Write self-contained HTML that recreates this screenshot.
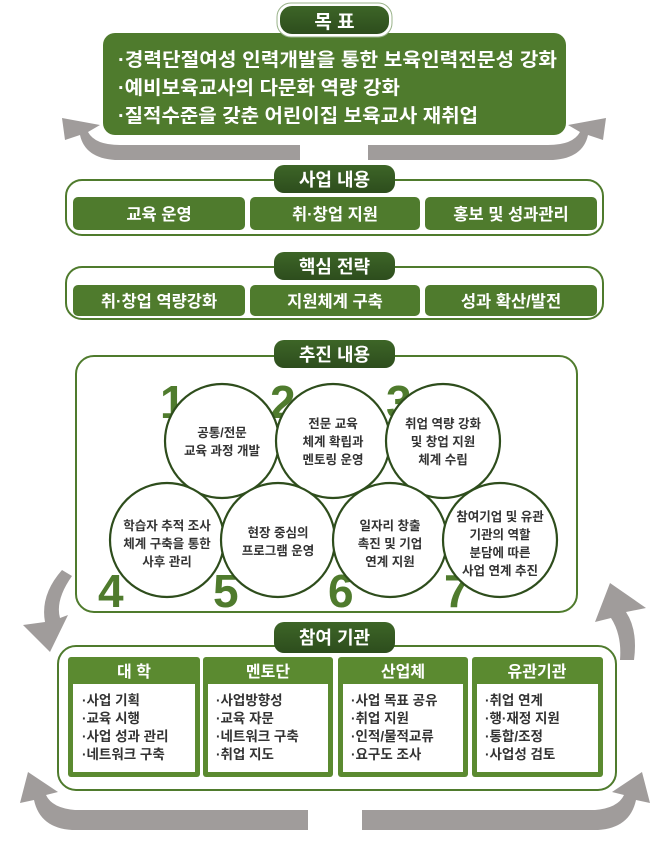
<!DOCTYPE html>
<html><head><meta charset="utf-8"><style>
body{margin:0;background:#fff;width:670px;height:840px;overflow:hidden}
svg{font-family:"Liberation Sans","Noto Sans CJK KR",sans-serif;font-weight:bold}
</style></head><body>
<svg width="670" height="840" viewBox="0 0 670 840">
<defs>
<linearGradient id="pg" x1="0" y1="0" x2="0" y2="1"><stop offset="0" stop-color="#3d6527"/><stop offset="1" stop-color="#2d4d1d"/></linearGradient>
</defs>
<g fill="#a09c9b">
<path d="M300 145 L300 160 L115 160 Q85 158 80 135 L65 140 L62 118 L100 125 L88 132 Q95 145 120 145 Z"/>
<path d="M368 145 L368 160 L553 160 Q583 158 588 135 L603 140 L606 118 L568 125 L580 132 Q573 145 548 145 Z"/>
<path d="M62 570 L72 576 Q55 600 60 618 L68 615 L50 652 L23 625 L45 622 Q40 595 62 570 Z"/>
<path d="M620 660 L634 660 Q638 630 626 612 L646 608 L610 583 L595 622 L611 618 Q622 635 620 660 Z"/>
<path d="M308 800 L308 830 L72 830 Q40 828 34 800 L20 803 L28 772 L58 792 L46 795 Q52 808 75 810 L308 810 Z"/>
<path d="M362 800 L362 830 L598 830 Q630 828 636 800 L650 803 L642 772 L612 792 L624 795 Q618 808 595 810 L362 810 Z"/>
</g>
<rect x="103" y="33" width="463" height="102" rx="12" fill="#4f7b2d"/>
<rect x="277" y="3" width="115" height="34" rx="14" fill="#fff" stroke="#9ab38a" stroke-width="1"/>
<rect x="280" y="6" width="109" height="28" rx="12" fill="url(#pg)"/>
<text x="334.5" y="28" fill="#fff" font-size="19" text-anchor="middle">목 표</text>
<g fill="#fff" font-size="19">
<text x="118" y="66" textLength="439" lengthAdjust="spacingAndGlyphs">·경력단절여성 인력개발을 통한 보육인력전문성 강화</text>
<text x="118" y="94" textLength="282" lengthAdjust="spacingAndGlyphs">·예비보육교사의 다문화 역량 강화</text>
<text x="118" y="122" textLength="360" lengthAdjust="spacingAndGlyphs">·질적수준을 갖춘 어린이집 보육교사 재취업</text>
</g>
<rect x="66" y="180" width="537" height="55" rx="16" fill="#fff" stroke="#4f7b2d" stroke-width="2"/>
<rect x="274" y="165" width="121" height="28" rx="10" fill="url(#pg)"/>
<text x="334.5" y="186" fill="#fff" font-size="18" text-anchor="middle">사업 내용</text>
<g fill="#4f7b2d"><rect x="73" y="197" width="172" height="33" rx="5"/><rect x="250" y="197" width="170" height="33" rx="5"/><rect x="425" y="197" width="172" height="33" rx="5"/></g>
<g fill="#fff" font-size="16.5" text-anchor="middle"><text x="159" y="220">교육 운영</text><text x="335" y="220">취·창업 지원</text><text x="511" y="220">홍보 및 성과관리</text></g>
<rect x="66" y="267" width="537" height="52" rx="16" fill="#fff" stroke="#4f7b2d" stroke-width="2"/>
<rect x="274" y="252" width="121" height="28" rx="10" fill="url(#pg)"/>
<text x="334.5" y="273" fill="#fff" font-size="18" text-anchor="middle">핵심 전략</text>
<g fill="#4f7b2d"><rect x="73" y="285" width="172" height="31" rx="5"/><rect x="250" y="285" width="170" height="31" rx="5"/><rect x="425" y="285" width="172" height="31" rx="5"/></g>
<g fill="#fff" font-size="16.5" text-anchor="middle"><text x="159" y="307">취·창업 역량강화</text><text x="335" y="307">지원체계 구축</text><text x="511" y="307">성과 확산/발전</text></g>
<rect x="76" y="356" width="501" height="256" rx="18" fill="#fff" stroke="#4f7b2d" stroke-width="2"/>
<rect x="274" y="340" width="121" height="28" rx="10" fill="url(#pg)"/>
<text x="334.5" y="361" fill="#fff" font-size="18" text-anchor="middle">추진 내용</text>
<g fill="#4f7b2d" font-size="46" font-family="Liberation Sans,sans-serif">
<text x="160" y="418">1</text><text x="270" y="418">2</text><text x="386" y="418">3</text>
<text x="98" y="607">4</text><text x="213" y="607">5</text><text x="328" y="607">6</text><text x="444" y="607">7</text>
</g>
<g fill="#fff" stroke="#2e4d1c" stroke-width="2.2">
<circle cx="222" cy="441" r="57"/><circle cx="333" cy="441" r="57"/><circle cx="443" cy="441" r="57"/>
<circle cx="167" cy="540" r="57"/><circle cx="278" cy="540" r="57"/><circle cx="390" cy="540" r="57"/><circle cx="500" cy="540" r="57"/>
</g>
<g fill="#333" font-size="12.5" text-anchor="middle">
<text x="222" y="437">공통/전문</text><text x="222" y="455">교육 과정 개발</text>
<text x="333" y="428">전문 교육</text><text x="333" y="446">체계 확립과</text><text x="333" y="464">멘토링 운영</text>
<text x="443" y="428">취업 역량 강화</text><text x="443" y="446">및 창업 지원</text><text x="443" y="464">체계 수립</text>
<text x="167" y="530">학습자 추적 조사</text><text x="167" y="548">체계 구축을 통한</text><text x="167" y="566">사후 관리</text>
<text x="278" y="537">현장 중심의</text><text x="278" y="555">프로그램 운영</text>
<text x="390" y="530">일자리 창출</text><text x="390" y="548">촉진 및 기업</text><text x="390" y="566">연계 지원</text>
<text x="500" y="521">참여기업 및 유관</text><text x="500" y="539">기관의 역할</text><text x="500" y="557">분담에 따른</text><text x="500" y="575">사업 연계 추진</text>
</g>
<rect x="58" y="646" width="558" height="144" rx="18" fill="#fff" stroke="#4f7b2d" stroke-width="2"/>
<rect x="274" y="622" width="121" height="31" rx="10" fill="url(#pg)"/>
<text x="334.5" y="644" fill="#fff" font-size="18" text-anchor="middle">참여 기관</text>
<g fill="#5b8a30">
<rect x="68" y="657" width="132" height="120" rx="3"/><rect x="203" y="657" width="130" height="120" rx="3"/>
<rect x="338" y="657" width="130" height="120" rx="3"/><rect x="472" y="657" width="131" height="120" rx="3"/>
</g>
<g fill="#fff">
<rect x="73" y="684" width="122" height="88"/><rect x="208" y="684" width="120" height="88"/>
<rect x="343" y="684" width="120" height="88"/><rect x="477" y="684" width="121" height="88"/>
</g>
<g fill="#fff" font-size="16" text-anchor="middle">
<text x="134" y="677">대 학</text><text x="268" y="677">멘토단</text><text x="403" y="677">산업체</text><text x="537" y="677">유관기관</text>
</g>
<g fill="#333" font-size="13.5">
<text x="82" y="705">·사업 기획</text><text x="82" y="723">·교육 시행</text><text x="82" y="741">·사업 성과 관리</text><text x="82" y="759">·네트워크 구축</text>
<text x="216" y="705">·사업방향성</text><text x="216" y="723">·교육 자문</text><text x="216" y="741">·네트워크 구축</text><text x="216" y="759">·취업 지도</text>
<text x="351" y="705">·사업 목표 공유</text><text x="351" y="723">·취업 지원</text><text x="351" y="741">·인적/물적교류</text><text x="351" y="759">·요구도 조사</text>
<text x="485" y="705">·취업 연계</text><text x="485" y="723">·행·재정 지원</text><text x="485" y="741">·통합/조정</text><text x="485" y="759">·사업성 검토</text>
</g>
</svg>
</body></html>
